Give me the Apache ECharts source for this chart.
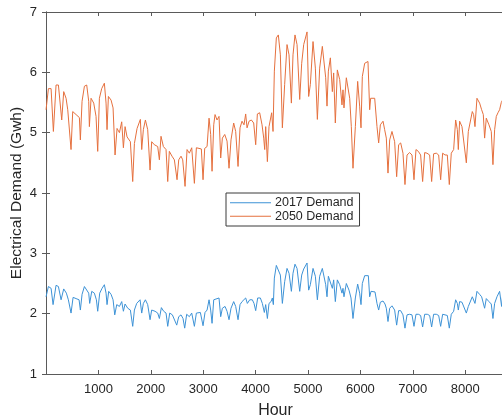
<!DOCTYPE html>
<html>
<head>
<meta charset="utf-8">
<script src="https://cdn.jsdelivr.net/npm/echarts@6/dist/echarts.min.js"></script>
<style>
  html, body { margin: 0; padding: 0; background: #fff; }
  #chart { width: 502px; height: 419px; }
</style>
</head>
<body>
<div id="chart"></div>
<script>
// hours and demand (GWh)
var hours2050 = [1, 46, 97, 141, 192, 237, 300, 338, 383, 415, 478, 510, 574, 637, 656, 688, 733, 777, 815, 828, 860, 911, 955, 987, 1019, 1063, 1114, 1146, 1165, 1191, 1242, 1280, 1318, 1356, 1401, 1445, 1477, 1509, 1547, 1610, 1655, 1687, 1738, 1801, 1827, 1858, 1897, 1941, 1986, 2017, 2068, 2132, 2164, 2195, 2240, 2291, 2323, 2354, 2405, 2450, 2501, 2533, 2577, 2609, 2654, 2692, 2736, 2781, 2832, 2870, 2902, 2965, 2997, 3029, 3074, 3112, 3143, 3169, 3201, 3226, 3264, 3302, 3334, 3366, 3411, 3455, 3493, 3531, 3582, 3620, 3665, 3703, 3741, 3779, 3811, 3837, 3875, 3919, 3964, 4002, 4034, 4078, 4123, 4155, 4174, 4193, 4225, 4256, 4282, 4307, 4333, 4358, 4396, 4434, 4473, 4511, 4555, 4600, 4638, 4683, 4714, 4752, 4791, 4842, 4880, 4918, 4982, 5013, 5045, 5096, 5141, 5179, 5223, 5274, 5306, 5338, 5363, 5389, 5427, 5465, 5490, 5522, 5560, 5605, 5649, 5668, 5687, 5732, 5796, 5827, 5859, 5904, 5948, 5986, 6012, 6037, 6082, 6145, 6177, 6196, 6273, 6317, 6349, 6381, 6432, 6463, 6495, 6527, 6559, 6603, 6654, 6692, 6730, 6769, 6813, 6851, 6890, 6940, 6985, 7023, 7061, 7106, 7150, 7188, 7227, 7271, 7322, 7360, 7398, 7449, 7494, 7532, 7570, 7615, 7659, 7697, 7735, 7780, 7818, 7850, 7869, 7894, 7939, 7977, 8022, 8060, 8098, 8136, 8161, 8187, 8225, 8276, 8314, 8346, 8371, 8403, 8454, 8498, 8530, 8562, 8594, 8626, 8657, 8689, 8720, 8760];
var demand2050 = [5.38, 5.73, 5.73, 5.02, 5.79, 5.79, 5.21, 5.68, 5.57, 5.38, 4.72, 5.35, 5.30, 5.25, 4.88, 5.52, 5.77, 5.79, 5.52, 5.10, 5.57, 5.49, 5.27, 4.69, 5.57, 5.73, 5.82, 5.49, 5.05, 5.60, 5.54, 5.41, 4.63, 5.07, 5.00, 5.18, 4.75, 5.10, 4.93, 4.85, 4.19, 4.82, 5.07, 5.22, 4.72, 5.05, 5.21, 5.05, 4.38, 4.85, 4.80, 4.77, 4.55, 4.94, 4.77, 4.72, 4.19, 4.69, 4.61, 4.55, 4.22, 4.55, 4.61, 4.55, 4.11, 4.72, 4.66, 4.75, 4.16, 4.75, 4.74, 4.73, 4.22, 4.74, 4.77, 5.24, 4.97, 4.36, 5.13, 5.30, 5.21, 5.27, 4.58, 4.91, 4.97, 4.86, 4.41, 4.88, 5.16, 5.02, 4.44, 5.08, 5.19, 5.13, 5.31, 5.08, 5.19, 5.21, 5.16, 4.80, 5.31, 5.33, 5.13, 4.91, 4.72, 5.10, 4.52, 5.10, 5.13, 5.33, 5.02, 6.02, 6.57, 6.62, 6.29, 5.08, 5.80, 6.46, 6.29, 5.49, 6.29, 6.62, 6.46, 5.55, 6.15, 6.46, 6.67, 5.60, 5.80, 6.51, 6.07, 5.22, 6.07, 6.43, 6.46, 5.91, 5.44, 6.02, 6.24, 5.68, 5.99, 5.16, 6.04, 5.88, 5.46, 5.71, 5.41, 5.91, 5.57, 5.10, 4.41, 5.10, 5.85, 5.44, 5.08, 5.93, 6.15, 6.18, 5.38, 5.57, 5.57, 5.10, 4.83, 5.13, 5.19, 5.05, 4.91, 4.33, 4.88, 5.02, 4.85, 4.27, 4.80, 4.83, 4.66, 4.14, 4.63, 4.67, 4.63, 4.22, 4.72, 4.69, 4.63, 4.19, 4.67, 4.66, 4.63, 4.19, 4.65, 4.66, 4.63, 4.22, 4.66, 4.63, 4.63, 4.14, 4.66, 4.72, 5.21, 5.05, 4.72, 5.19, 5.10, 5.08, 4.50, 5.02, 4.99, 5.35, 5.30, 5.10, 5.57, 5.49, 5.38, 5.30, 4.91, 5.24, 5.13, 5.02, 4.47, 5.05, 5.27, 5.33, 5.38, 5.50, 5.55, 5.00];

var hours2017 = [1, 46, 97, 135, 192, 237, 288, 338, 389, 427, 478, 517, 574, 631, 656, 688, 733, 771, 815, 834, 873, 923, 962, 987, 1025, 1070, 1114, 1146, 1165, 1197, 1242, 1280, 1312, 1350, 1401, 1445, 1477, 1509, 1560, 1610, 1655, 1687, 1731, 1795, 1827, 1858, 1897, 1941, 1986, 2017, 2081, 2132, 2164, 2202, 2246, 2291, 2323, 2361, 2412, 2450, 2495, 2533, 2577, 2615, 2647, 2685, 2736, 2781, 2832, 2870, 2946, 2997, 3035, 3074, 3112, 3143, 3169, 3201, 3239, 3302, 3334, 3366, 3417, 3455, 3493, 3531, 3582, 3620, 3665, 3703, 3741, 3779, 3811, 3843, 3888, 3938, 3970, 4002, 4040, 4091, 4129, 4167, 4193, 4225, 4256, 4295, 4320, 4339, 4358, 4396, 4434, 4473, 4511, 4555, 4600, 4638, 4683, 4714, 4752, 4791, 4842, 4880, 4918, 4982, 5013, 5045, 5096, 5141, 5179, 5223, 5274, 5306, 5338, 5363, 5389, 5427, 5465, 5490, 5522, 5560, 5605, 5649, 5668, 5687, 5732, 5783, 5821, 5859, 5904, 5948, 5986, 6012, 6037, 6082, 6152, 6177, 6203, 6279, 6317, 6349, 6381, 6432, 6470, 6495, 6527, 6559, 6603, 6654, 6692, 6730, 6769, 6813, 6851, 6890, 6940, 6985, 7023, 7061, 7106, 7150, 7188, 7227, 7277, 7322, 7360, 7398, 7449, 7494, 7532, 7570, 7615, 7659, 7697, 7735, 7780, 7818, 7850, 7869, 7894, 7939, 7977, 8022, 8060, 8098, 8136, 8161, 8187, 8225, 8276, 8314, 8346, 8371, 8403, 8454, 8498, 8530, 8562, 8607, 8657, 8695, 8720, 8760];
var demand2017 = [2.28, 2.45, 2.42, 2.15, 2.47, 2.45, 2.23, 2.41, 2.34, 2.23, 2.01, 2.27, 2.25, 2.23, 2.06, 2.32, 2.45, 2.47, 2.34, 2.17, 2.37, 2.34, 2.23, 2.04, 2.34, 2.42, 2.48, 2.34, 2.15, 2.37, 2.32, 2.23, 1.98, 2.15, 2.12, 2.20, 2.04, 2.16, 2.09, 2.06, 1.79, 2.06, 2.17, 2.23, 2.01, 2.17, 2.23, 2.15, 1.90, 2.06, 2.04, 2.01, 1.92, 2.10, 2.04, 2.01, 1.79, 2.01, 1.98, 1.95, 1.81, 1.95, 1.98, 1.92, 1.76, 1.99, 1.95, 2.01, 1.79, 2.01, 2.02, 1.80, 2.02, 2.06, 2.23, 2.06, 1.84, 2.23, 2.26, 2.26, 1.95, 2.09, 2.12, 2.04, 1.90, 2.09, 2.20, 2.12, 1.90, 2.15, 2.20, 2.17, 2.26, 2.17, 2.23, 2.23, 2.17, 2.05, 2.26, 2.26, 2.17, 2.02, 2.15, 1.92, 2.17, 2.20, 2.26, 2.15, 2.59, 2.80, 2.82, 2.64, 2.17, 2.53, 2.75, 2.67, 2.37, 2.67, 2.82, 2.75, 2.37, 2.64, 2.74, 2.84, 2.39, 2.48, 2.75, 2.62, 2.23, 2.62, 2.75, 2.75, 2.48, 2.28, 2.62, 2.65, 2.42, 2.56, 2.20, 2.56, 2.48, 2.34, 2.42, 2.28, 2.50, 2.39, 2.26, 1.92, 2.26, 2.49, 2.34, 2.15, 2.50, 2.63, 2.63, 2.28, 2.37, 2.36, 2.17, 2.06, 2.19, 2.21, 2.16, 2.09, 1.87, 2.09, 2.13, 2.06, 1.81, 2.05, 2.05, 1.98, 1.76, 1.98, 1.99, 1.98, 1.79, 1.99, 1.99, 1.97, 1.78, 1.99, 1.99, 1.97, 1.78, 1.99, 1.99, 1.97, 1.79, 1.99, 1.98, 1.97, 1.76, 1.99, 2.04, 2.23, 2.17, 2.06, 2.20, 2.19, 2.17, 2.01, 2.12, 2.12, 2.28, 2.26, 2.17, 2.37, 2.32, 2.28, 2.25, 2.09, 2.25, 2.20, 2.16, 1.92, 2.17, 2.28, 2.37, 2.12, 2.35, 1.95];

var xTicks = [1000, 2000, 3000, 4000, 5000, 6000, 7000, 8000];
var seriesNames = ["2017 Demand", "2050 Demand"];

function pairs(xs, ys) {
  return xs.map(function(x, i) { return [x, ys[i]]; });
}

var font = "'Liberation Sans', Arial, sans-serif";
var axisColor = "#5a5a5a";
var textColor = "#262626";
var blue = "#3d92d6";
var orange = "#e5703e";

var chart = echarts.init(document.getElementById("chart"));
chart.setOption({
  animation: false,
  backgroundColor: "#fff",
  textStyle: { fontFamily: font },
  grid: { left: 46, top: 12, bottom: 45, width: 459, containLabel: false, outerBoundsMode: "none" },
  legend: {
    data: seriesNames,
    orient: "vertical",
    left: 226,
    top: 193,
    icon: "rect",
    itemWidth: 41,
    itemHeight: 1,
    itemGap: 0,
    padding: [3, 6, 3, 4],
    backgroundColor: "#fff",
    borderColor: "#3a3a3a",
    borderWidth: 1,
    textStyle: { fontFamily: font, fontSize: 12.5, color: textColor, lineHeight: 13.5, padding: [0, 0, 0, -1] }
  },
  xAxis: [
    {
      type: "value",
      min: 0,
      max: 8760,
      interval: 1000,
      name: "Hour",
      nameLocation: "middle",
      nameGap: 29,
      nameTextStyle: { fontFamily: font, fontSize: 16, color: textColor },
      axisLine: { lineStyle: { color: axisColor, width: 1 } },
      axisTick: { inside: true, length: 4, lineStyle: { color: axisColor } },
      axisLabel: {
        fontFamily: font, fontSize: 13, color: textColor, margin: 9,
        formatter: function(v) { return xTicks.indexOf(v) >= 0 ? String(v) : ""; }
      },
      splitLine: { show: false }
    },
    {
      type: "value",
      position: "top",
      min: 0,
      max: 8760,
      interval: 1000,
      axisLine: { lineStyle: { color: axisColor, width: 1 } },
      axisTick: { inside: true, length: 4, lineStyle: { color: axisColor } },
      axisLabel: { show: false },
      splitLine: { show: false }
    }
  ],
  yAxis: [
    {
      type: "value",
      min: 1,
      max: 7,
      interval: 1,
      name: "Electrical Demand (Gwh)",
      nameLocation: "middle",
      nameGap: 21,
      nameMoveOverlap: false,
      nameTextStyle: { fontFamily: font, fontSize: 15.5, color: textColor },
      axisLine: { show: true, lineStyle: { color: axisColor, width: 1 } },
      axisTick: { show: true, inside: true, length: 4, lineStyle: { color: axisColor } },
      axisLabel: { fontFamily: font, fontSize: 13, color: textColor, margin: 9 },
      splitLine: { show: false }
    },
    {
      type: "value",
      position: "right",
      min: 1,
      max: 7,
      interval: 1,
      axisLine: { show: true, lineStyle: { color: axisColor, width: 1 } },
      axisTick: { show: true, inside: true, length: 4, lineStyle: { color: axisColor } },
      axisLabel: { show: false },
      splitLine: { show: false }
    }
  ],
  series: [
    {
      name: seriesNames[0],
      type: "line",
      symbol: "none",
      data: pairs(hours2017, demand2017),
      itemStyle: { color: blue },
      lineStyle: { color: blue, width: 1 }
    },
    {
      name: seriesNames[1],
      type: "line",
      symbol: "none",
      data: pairs(hours2050, demand2050),
      itemStyle: { color: orange },
      lineStyle: { color: orange, width: 1 }
    }
  ]
});
</script>
</body>
</html>
